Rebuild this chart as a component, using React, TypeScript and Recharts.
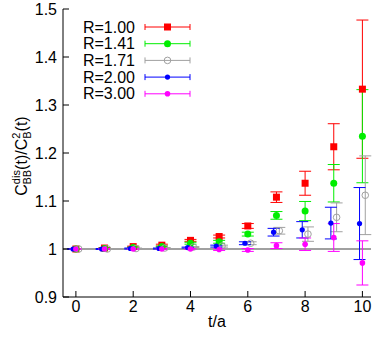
import {
  ComposedChart,
  Customized,
  ErrorBar,
  ReferenceLine,
  Scatter,
  XAxis,
  YAxis,
} from 'recharts';

// t/a values, one entry per timeslice
const T = [0, 1, 2, 3, 4, 5, 6, 7, 8, 9, 10];

const R100 = [1.0, 1.002, 1.005, 1.008, 1.018, 1.026, 1.048, 1.108, 1.137, 1.213, 1.333];
const E100 = [0.0005, 0.001, 0.001, 0.002, 0.002, 0.003, 0.005, 0.011, 0.025, 0.048, 0.144];
const R141 = [1.0, 1.001, 1.003, 1.005, 1.012, 1.015, 1.031, 1.07, 1.079, 1.137, 1.235];
const E141 = [0.0005, 0.001, 0.001, 0.001, 0.002, 0.003, 0.004, 0.008, 0.02, 0.039, 0.097];
const R171 = [1.0, 1.0, 1.001, 1.002, 1.004, 1.006, 1.012, 1.038, 1.031, 1.066, 1.112];
const E171 = [0.0005, 0.001, 0.001, 0.001, 0.001, 0.002, 0.003, 0.007, 0.015, 0.03, 0.082];
const R200 = [1.0, 1.0, 1.001, 1.001, 1.003, 1.006, 1.012, 1.035, 1.04, 1.054, 1.053];
const E200 = [0.0005, 0.001, 0.001, 0.001, 0.001, 0.002, 0.003, 0.008, 0.017, 0.033, 0.075];
const R300 = [1.0, 1.0, 1.0, 1.0, 1.0, 0.999, 0.998, 1.007, 1.01, 1.024, 0.971];
const E300 = [0.0005, 0.001, 0.001, 0.001, 0.001, 0.002, 0.003, 0.006, 0.013, 0.029, 0.046];

const X_TICKS = [0, 2, 4, 6, 8, 10];
const Y_TICKS = [0.9, 1.0, 1.1, 1.2, 1.3, 1.4, 1.5];

const FONT = '"Liberation Sans", Arial, sans-serif';

type Marker = 'square' | 'dot' | 'open' | 'small' | 'tiny';

interface Series {
  name: string;
  color: string;
  marker: Marker;
  shift: number;
  values: number[];
  errors: number[];
}

const SERIES: Series[] = [
  { name: 'R=1.00', color: '#ff0000', marker: 'square', shift: 0, values: R100, errors: E100 },
  { name: 'R=1.41', color: '#00ee00', marker: 'dot', shift: 0, values: R141, errors: E141 },
  { name: 'R=1.71', color: '#a0a0a0', marker: 'open', shift: 0.1, values: R171, errors: E171 },
  { name: 'R=2.00', color: '#0000ff', marker: 'small', shift: -0.1, values: R200, errors: E200 },
  { name: 'R=3.00', color: '#ff00ff', marker: 'tiny', shift: 0, values: R300, errors: E300 },
];

function build_rows(s: Series) {
  return T.map((t, i) => ({ x: t + s.shift, y: s.values[i], e: s.errors[i] }));
}

function draw_marker(marker: Marker, color: string, cx: number, cy: number) {
  if (marker === 'square') {
    return <rect x={cx - 3.5} y={cy - 3.5} width={7} height={7} fill={color} />;
  }
  if (marker === 'open') {
    return <circle cx={cx} cy={cy} r={3.3} fill="none" stroke={color} strokeWidth={1} />;
  }
  if (marker === 'small') {
    return <circle cx={cx} cy={cy} r={2.6} fill={color} />;
  }
  if (marker === 'tiny') {
    return <circle cx={cx} cy={cy} r={2.8} fill={color} />;
  }
  return <circle cx={cx} cy={cy} r={3.5} fill={color} />;
}

function shape_for(s: Series) {
  return (props: any) => {
    if (props.cx == null || props.cy == null) return <g />;
    return draw_marker(s.marker, s.color, props.cx, props.cy);
  };
}

// gnuplot-style key in the top left corner of the frame
function KeyBox() {
  const row_h = 16.7;
  return (
    <g transform="translate(80,27)" fontFamily={FONT}>
      {SERIES.map((s, i) => {
        const y = i * row_h;
        return (
          <g key={s.name}>
            <text x={55} y={y + 5.5} textAnchor="end" fontSize={16} fill="#000">
              {s.name}
            </text>
            <line x1={65} x2={110} y1={y} y2={y} stroke={s.color} strokeWidth={1} />
            <line x1={65} x2={65} y1={y - 3} y2={y + 3} stroke={s.color} strokeWidth={1} />
            <line x1={110} x2={110} y1={y - 3} y2={y + 3} stroke={s.color} strokeWidth={1} />
            {draw_marker(s.marker, s.color, 87.5, y)}
          </g>
        );
      })}
    </g>
  );
}

function AxisTitles() {
  return (
    <g fontFamily={FONT} fill="#000">
      <text x={217} y={327} textAnchor="middle" fontSize={16}>t/a</text>
      <g transform="translate(27,156) rotate(-90)">
        <text x={0} y={0} textAnchor="middle" fontSize={16}>
          C
          <tspan fontSize={11} dy={-7}>dis</tspan>
          <tspan fontSize={11} dx={-14.5} dy={11}>BB</tspan>
          <tspan fontSize={16} dy={-4}>(t)/C</tspan>
          <tspan fontSize={11} dy={-7}>2</tspan>
          <tspan fontSize={11} dx={-6.1} dy={11}>B</tspan>
          <tspan fontSize={16} dy={-4}>(t)</tspan>
        </text>
      </g>
    </g>
  );
}

const fmt_y = (v: number) => (Math.abs(v - 1) < 1e-9 ? '1' : v.toFixed(1));

export default function App() {
  const tick_style = { fontSize: 16, fontFamily: FONT, fill: '#000' };
  return (
    <div style={{ width: 374, height: 337 }}>
      <style>{'body{margin:0}'}</style>
      <ComposedChart
        width={374}
        height={337}
        margin={{ top: 9, right: 3, bottom: 0, left: 0 }}
      >
        <XAxis
          xAxisId="b"
          dataKey="x"
          type="number"
          domain={[-0.45, 10.3]}
          ticks={X_TICKS}
          allowDataOverflow
          height={40}
          tickSize={-6}
          tickMargin={10}
          tick={tick_style}
          stroke="#000"
        />
        <XAxis
          xAxisId="t"
          orientation="top"
          dataKey="x"
          type="number"
          domain={[-0.45, 10.3]}
          ticks={X_TICKS}
          allowDataOverflow
          height={0}
          tickSize={-6}
          tick={false}
          stroke="#000"
        />
        <YAxis
          yAxisId="l"
          type="number"
          domain={[0.9, 1.5]}
          ticks={Y_TICKS}
          allowDataOverflow
          width={63}
          tickSize={-6}
          tickMargin={12}
          tickFormatter={fmt_y}
          tick={tick_style}
          stroke="#000"
        />
        <YAxis
          yAxisId="r"
          orientation="right"
          type="number"
          domain={[0.9, 1.5]}
          ticks={Y_TICKS}
          allowDataOverflow
          width={0}
          tickSize={-6}
          tick={false}
          stroke="#000"
        />
        <ReferenceLine xAxisId="b" yAxisId="l" y={1} stroke="#a0a0a0" strokeWidth={2} />
        {SERIES.map((s) => (
          <Scatter
            key={s.name}
            name={s.name}
            xAxisId="b"
            yAxisId="l"
            data={build_rows(s)}
            dataKey="y"
            fill={s.color}
            shape={shape_for(s)}
            isAnimationActive={false}
          >
            <ErrorBar dataKey="e" direction="y" width={6} stroke={s.color} strokeWidth={1} />
          </Scatter>
        ))}
        <Customized component={KeyBox} />
        <Customized component={AxisTitles} />
      </ComposedChart>
    </div>
  );
}
